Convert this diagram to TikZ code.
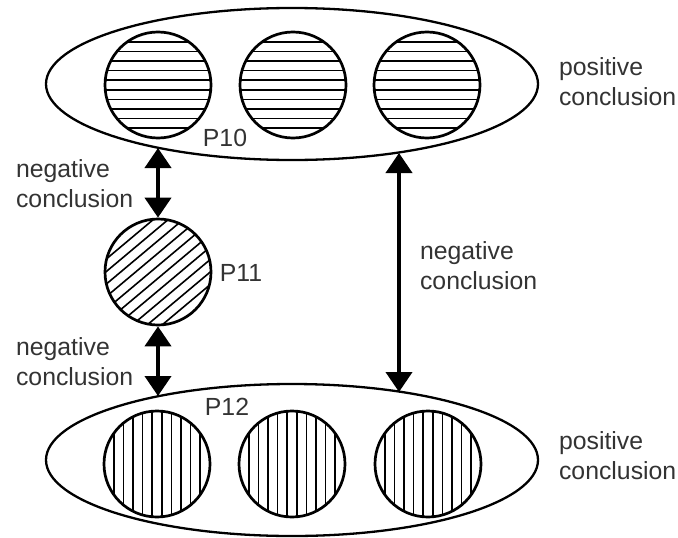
\documentclass[tikz,border=0pt]{standalone}
\usepackage{fontspec}
\setmainfont{Liberation Sans}
\usetikzlibrary{arrows.meta,shapes.geometric}

\begin{document}
\begin{tikzpicture}[x=0.5pt,y=0.5pt,
  group/.style={draw,ellipse,line width=1.15pt,minimum width=246pt,
                minimum height=76pt,inner sep=0pt},
  premise/.style={draw,circle,line width=1.35pt,minimum size=53pt,inner sep=0pt,
    path picture={
      \foreach \k in {-5,...,4}
        \draw[line width=0.8pt]
          ([shift={(#1+90:{(\k+0.5)*4.8pt})}]path picture bounding box.center)
          ++(#1:-30pt) -- ++(#1:60pt);
    }},
  premise/.default=0,
  lbl/.style={align=left,text=black!80,font=\fontsize{12.4}{15}\selectfont},
  arr/.style={{Triangle[length=10pt,width=13pt]}-{Triangle[length=10pt,width=13pt]},
              line width=2pt}
]
  \useasboundingbox (0,0) rectangle (678,537);

  % upper and lower groups
  \node[group] (top) at (292,453) {};
  \node[group] (bot) at (292,77) {};
  \foreach \x [count=\i] in {158,293,427} {
    \node[premise=0] (a\i) at (\x,452) {};
  }
  \foreach \x [count=\i] in {157,292,428} {
    \node[premise=90] (b\i) at (\x,73) {};
  }
  \node[premise=40] (p11) at (158,265) {};

  \node[lbl] (l10) at (225,399) {P10};
  \node[lbl] (l11) at (241,264) {P11};
  \node[lbl] (l12) at (227,130) {P12};

  % conclusions
  \node[lbl,anchor=west] (pos1) at (552,455) {positive\\conclusion};
  \node[lbl,anchor=west] (pos2) at (552,81) {positive\\conclusion};
  \node[lbl,anchor=west] (neg1) at (9,353) {negative\\conclusion};
  \node[lbl,anchor=west] (neg2) at (9,175) {negative\\conclusion};
  \node[lbl,anchor=west] (neg3) at (413,271) {negative\\conclusion};

  \coordinate (t1) at (158,389);
  \coordinate (b1) at (158,141);
  \coordinate (t2) at (399,384);
  \coordinate (b2) at (399,145);
  \draw[arr] (p11) -- (t1);
  \draw[arr] (p11) -- (b1);
  \draw[arr] (t2) -- (b2);
\end{tikzpicture}
\end{document}
